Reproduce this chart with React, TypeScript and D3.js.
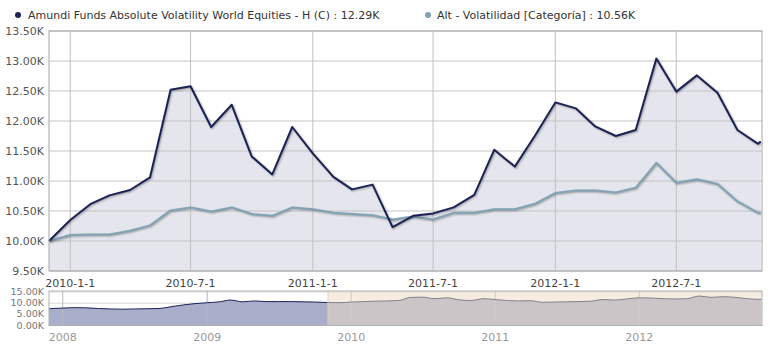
import * as d3 from "d3";

// legend
const seriesNames = [
  "Amundi Funds Absolute Volatility World Equities - H (C) : 12.29K",
  "Alt - Volatilidad [Categoría] : 10.56K",
];

// main chart dates: first point, month starts, last point
const mainDates: Date[] = [
  new Date(2009, 10, 30),
  ...d3.timeMonth.range(new Date(2010, 0, 1), new Date(2012, 10, 2)),
  new Date(2012, 10, 5),
];

// values in thousands
const fundValues = [
  10.0,
  10.35, 10.62, 10.76, 10.85, 11.06, 12.52, 12.58, 11.9, 12.27, 11.41, 11.11, 11.9,
  11.46, 11.07, 10.86, 10.94, 10.23, 10.42, 10.46, 10.56, 10.77, 11.52, 11.24, 11.75,
  12.31, 12.21, 11.91, 11.75, 11.85, 13.04, 12.49, 12.76, 12.47, 11.85, 11.62,
  11.66,
];

const categoryValues = [
  10.0,
  10.1, 10.11, 10.11, 10.17, 10.26, 10.51, 10.56, 10.49, 10.56, 10.45, 10.42, 10.56,
  10.53, 10.47, 10.45, 10.43, 10.36, 10.41, 10.36, 10.47, 10.47, 10.53, 10.53, 10.62,
  10.8, 10.84, 10.84, 10.81, 10.89, 11.3, 10.97, 11.03, 10.95, 10.66, 10.47,
  10.47,
];

const yTicks = [9.5, 10, 10.5, 11, 11.5, 12, 12.5, 13, 13.5];
const xTicks = ["2010-1-1", "2010-7-1", "2011-1-1", "2011-7-1", "2012-1-1", "2012-7-1"];

// navigator (whole history)
const navDates: Date[] = [
  new Date(2007, 10, 27),
  ...d3.timeMonth.range(new Date(2007, 11, 1), new Date(2012, 10, 2)),
  new Date(2012, 10, 5),
];
const navValues = [
  7.55,
  7.6,
  7.8, 8.0, 7.9, 7.6, 7.4, 7.3, 7.4, 7.5, 7.6, 8.4, 9.2, 9.8,
  10.2, 10.6, 11.4, 10.6, 11.0, 10.7, 10.7, 10.7, 10.6, 10.5, 10.3, 10.2,
  10.5, 10.7, 10.9, 11.0, 11.2, 12.6, 12.7, 12.0, 12.4, 11.5, 11.2, 12.0,
  11.6, 11.2, 11.0, 11.1, 10.4, 10.5, 10.6, 10.7, 10.9, 11.6, 11.4, 11.9,
  12.4, 12.3, 12.0, 11.9, 12.0, 13.2, 12.6, 12.9, 12.6, 12.0, 11.7,
  11.8,
];
const navYTicks = [0, 5, 10, 15];
const navYears = [2008, 2009, 2010, 2011, 2012];
const navSelectionStart = new Date(2009, 10, 3);

const font = "DejaVu Sans, Verdana, sans-serif";
const darkColor = "#1b2256";
const lightColor = "#80a3b5";
const areaColor = "#e5e6ed";

export default function App() {
  const left = 49;
  const right = 762;
  const top = 31;
  const bottom = 271;

  const x = d3
    .scaleTime()
    .domain([new Date(2009, 10, 30), new Date(2012, 10, 7)])
    .range([left, right]);
  const y = d3.scaleLinear().domain([9.5, 13.5]).range([bottom, top]);

  const navTop = 291;
  const navBottom = 325.5;
  const xNav = d3
    .scaleTime()
    .domain([new Date(2007, 10, 27), new Date(2012, 10, 7)])
    .range([left, right]);
  const yNav = d3.scaleLinear().domain([0, 15]).range([navBottom, 292]);

  const line = d3
    .line<number>()
    .x((_, i) => x(mainDates[i]))
    .y((d) => y(d));
  const area = d3
    .area<number>()
    .x((_, i) => x(mainDates[i]))
    .y0(bottom)
    .y1((d) => y(d));

  const navLine = d3
    .line<number>()
    .x((_, i) => xNav(navDates[i]))
    .y((d) => yNav(d))
    .curve(d3.curveMonotoneX);
  const navArea = d3
    .area<number>()
    .x((_, i) => xNav(navDates[i]))
    .y0(navBottom)
    .y1((d) => yNav(d))
    .curve(d3.curveMonotoneX);

  const parseTick = (s: string) => {
    const [yy, mm, dd] = s.split("-").map(Number);
    return new Date(yy, mm - 1, dd);
  };

  const shadow = (d: string | null, key: string) =>
    [
      { w: 5, o: 0.05 },
      { w: 3, o: 0.1 },
      { w: 1, o: 0.15 },
    ].map((s, i) => (
      <path
        key={key + i}
        d={d || ""}
        fill="none"
        stroke="#000"
        strokeOpacity={s.o}
        strokeWidth={s.w}
        strokeLinejoin="round"
        transform="translate(1,1)"
      />
    ));

  const selX = xNav(navSelectionStart);

  return (
    <svg
      width={772}
      height={354}
      style={{ position: "absolute", left: 0, top: 0, background: "#fff" }}
      fontFamily={font}
    >
      {/* legend */}
      <circle cx={18} cy={15} r={3} fill={darkColor} />
      <text x={28} y={19} fontSize={11} fill="#333">
        {seriesNames[0]}
      </text>
      <circle cx={428} cy={15} r={3} fill={lightColor} />
      <text x={437} y={19} fontSize={11} fill="#333">
        {seriesNames[1]}
      </text>

      {/* areas */}
      <path d={area(fundValues) || ""} fill={areaColor} />
      <path d={area(categoryValues) || ""} fill={areaColor} />

      {/* grid */}
      {yTicks.map((t) => (
        <line key={"gy" + t} x1={left} x2={right} y1={y(t)} y2={y(t)} stroke="#c4c4c4" />
      ))}
      {xTicks.map((t) => (
        <line
          key={"gx" + t}
          x1={x(parseTick(t))}
          x2={x(parseTick(t))}
          y1={top}
          y2={bottom}
          stroke="#c0c0c0"
        />
      ))}

      {/* lines */}
      {shadow(line(categoryValues), "sl")}
      <path d={line(categoryValues) || ""} fill="none" stroke={lightColor} strokeWidth={2} strokeLinejoin="round" />
      {shadow(line(fundValues), "sd")}
      <path d={line(fundValues) || ""} fill="none" stroke={darkColor} strokeWidth={2} strokeLinejoin="round" />

      <rect x={left} y={top} width={right - left} height={bottom - top} fill="none" stroke="#a6a6a6" />

      {/* axis labels */}
      {yTicks.map((t) => (
        <text key={"ly" + t} x={44} y={y(t) + 4} fontSize={11} fill="#555" textAnchor="end">
          {t.toFixed(2) + "K"}
        </text>
      ))}
      {xTicks.map((t) => (
        <text key={"lx" + t} x={x(parseTick(t))} y={287} fontSize={11} fill="#444" textAnchor="middle">
          {t}
        </text>
      ))}

      {/* navigator */}
      {navYTicks.map((t) => (
        <line key={"ny" + t} x1={left} x2={right} y1={yNav(t)} y2={yNav(t)} stroke="#d8d8d8" />
      ))}
      <path d={navArea(navValues) || ""} fill="#a9aecb" />
      {navYears.map((yr) => (
        <line
          key={"nx" + yr}
          x1={xNav(new Date(yr, 0, 1))}
          x2={xNav(new Date(yr, 0, 1))}
          y1={navTop}
          y2={navBottom}
          stroke="#b8b8c0"
        />
      ))}
      <path d={navLine(navValues) || ""} fill="none" stroke={darkColor} strokeWidth={1} />
      <rect x={selX} y={navTop} width={right - selX} height={navBottom - navTop} fill="#eedcc4" fillOpacity={0.5} />
      <line x1={selX} x2={selX} y1={navTop} y2={navBottom} stroke="#e0cdb2" />
      <rect x={left} y={navTop} width={right - left} height={navBottom - navTop} fill="none" stroke="#b0b0b0" />

      {navYTicks.map((t) => (
        <text key={"nly" + t} x={44} y={yNav(t) + 3} fontSize={9.5} fill="#777" textAnchor="end">
          {t.toFixed(2) + "K"}
        </text>
      ))}
      {navYears.map((yr) => (
        <text key={"nlx" + yr} x={xNav(new Date(yr, 0, 1))} y={341} fontSize={11} fill="#999" textAnchor="middle">
          {yr}
        </text>
      ))}
    </svg>
  );
}
